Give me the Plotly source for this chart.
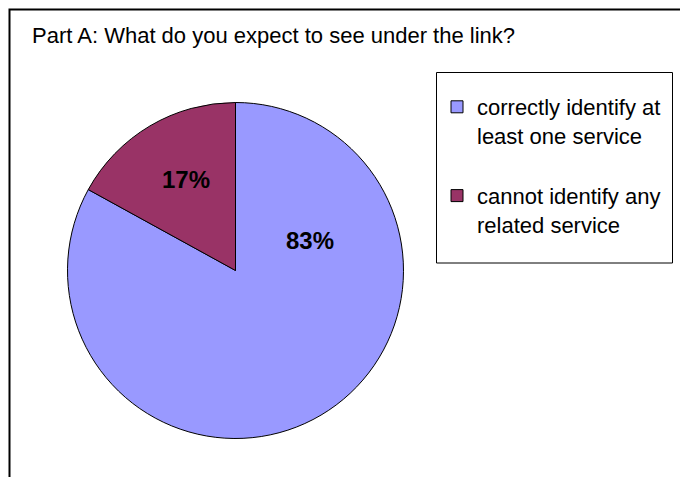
import plotly.graph_objects as go

# ---- data ----
categories = ["correctly identify at<br>least one service<br> ",
              "cannot identify any<br>related service"]
values = [83, 17]
colors = ["#9999FF", "#993366"]
title_text = "Part A: What do you expect to see under the link?"

W, H = 680, 477
FONT = "Liberation Sans, Arial, sans-serif"

# pie geometry (pixels)
cx, cy, r = 235.5, 270.5, 168.0

fig = go.Figure(go.Pie(
    labels=categories,
    values=values,
    marker=dict(colors=colors, line=dict(color="black", width=1)),
    sort=False,
    direction="clockwise",
    rotation=0,
    textinfo="none",
    hoverinfo="label+percent",
    domain=dict(x=[(cx - r) / W, (cx + r) / W],
                y=[(H - cy - r) / H, (H - cy + r) / H]),
))

def px(x):
    return x / W

def py(y):
    return 1 - y / H

# percentage labels (placed like the reference)
label_pos = [(309.5, 240.0), (186.0, 179.0)]
annotations = []
tot = sum(values)
for v, (lx, ly) in zip(values, label_pos):
    annotations.append(dict(
        x=px(lx), y=py(ly), xref="paper", yref="paper",
        text=f"<b>{round(100 * v / tot)}%</b>", showarrow=False,
        font=dict(family=FONT, size=24, color="black"),
        xanchor="center", yanchor="middle"))

annotations.append(dict(
    x=px(30), y=py(36), xref="paper", yref="paper",
    text=title_text, showarrow=False,
    font=dict(family=FONT, size=22, color="black"),
    xanchor="left", yanchor="middle"))

shapes = [
    # outer chart frame
    dict(type="rect", xref="paper", yref="paper",
         x0=px(9.5), x1=px(W + 5), y0=py(H + 5), y1=py(9.5),
         line=dict(color="black", width=2), fillcolor="rgba(0,0,0,0)"),
    # legend box
    dict(type="rect", xref="paper", yref="paper",
         x0=px(436.5), x1=px(672.5), y0=py(263), y1=py(72.5),
         line=dict(color="black", width=1), fillcolor="rgba(0,0,0,0)"),
]

fig.update_layout(
    width=W, height=H,
    margin=dict(l=0, r=0, t=0, b=0),
    paper_bgcolor="white", plot_bgcolor="white",
    showlegend=True,
    legend=dict(x=px(437), y=py(86), xanchor="left", yanchor="top",
                bgcolor="rgba(0,0,0,0)", borderwidth=0,
                font=dict(family=FONT, size=22, color="black"),
                valign="top", traceorder="normal"),
    annotations=annotations,
    shapes=shapes,
)

fig.write_html("out.html",
               config={"displayModeBar": False},
               post_script="document.body.style.margin='0';document.body.style.padding='0';")
